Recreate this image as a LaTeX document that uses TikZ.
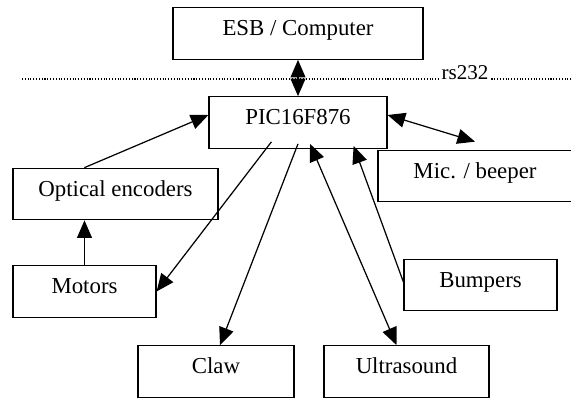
\documentclass[tikz,border=0pt]{standalone}
\usepackage{fontspec}
\setmainfont{Liberation Serif}
\usetikzlibrary{calc,arrows.meta}

\begin{document}
\begin{tikzpicture}[x=0.02cm, y=-0.02cm, line width=0.7pt,
                    every node/.style={font=\fontsize{13}{15}\selectfont},
                    bloc/.style={draw, minimum width=#1, minimum height=1.03cm,
                                 text height=9pt, text depth=6.5pt},
                    >={Triangle[length=10pt,width=8.5pt]}]
                    \useasboundingbox (0,0) rectangle (571,399);

                    \node[bloc=5cm]    (esb)   at (298,33.5)  {ESB / Computer};
                    \node[bloc=3.56cm] (pic)   at (298,122.5) {PIC16F876};
                    \node[bloc=4.1cm]  (opt)   at (115.5,194) {Optical encoders};
                    \node[bloc=2.86cm] (mot)   at (84.5,291.5) {Motors};
                    \node[bloc=3.12cm] (claw)  at (216,371.5) {Claw};
                    \node[bloc=3.3cm]  (ultra) at (406.5,371.5) {Ultrasound};
                    \node[bloc=3.06cm] (bump)  at (480.5,285) {Bumpers};
                    \node[bloc=3.88cm] (mic)   at (475,176)   {Mic. / beeper};

                    % serial link
                    \draw[line width=0.6pt, dash pattern=on 0.6pt off 1pt] (22,79) -- (571,79);
                    \node[anchor=base, fill=white, inner sep=1pt, font=\fontsize{12}{14}\selectfont] (rs) at (465,79) {rs232};

                    \draw[<->] (esb) -- (pic);
                    \draw[->] ($(opt.north west)+(72,0)$) -- ($(pic.west)+(0,-7.5)$);
                    \draw[->] (mot.north) -- (mot.north |- opt.south);
                    \draw[->] ($(pic.south west)+(63,-7)$) -- (mot.east);
                    \draw[->] ($(pic.south)+(0,-5)$) -- ($(claw.north)+(4,0)$);
                    \draw[<->] ($(pic.south)+(12,-5)$) -- ($(ultra.north)+(-10,0)$);
                    \draw[->] ($(bump.west)+(0,-3)$) -- ($(pic.south east)+(-34,-3)$);
                    \draw[<->] ($(pic.east)+(0,-7.5)$) -- ($(mic.north)+(0,-8)$);
                \end{tikzpicture}
\end{document}
